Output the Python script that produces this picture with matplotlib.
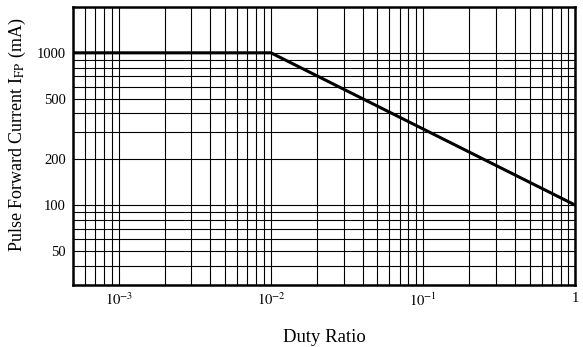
import numpy as np
import matplotlib.pyplot as plt
from matplotlib.ticker import LogLocator, FixedLocator, NullFormatter

# Derating curve
duty = [5e-4, 1e-2, 1.0]
current = [1000, 1000, 100]

x_ticks = [1e-3, 1e-2, 1e-1, 1]
x_labels = ['$10^{-3}$', '$10^{-2}$', '$10^{-1}$', '1']
y_ticks = [50, 100, 200, 500, 1000]
y_labels = ['50', '100', '200', '500', '1000']

plt.rcParams['font.family'] = ['Liberation Serif', 'DejaVu Serif']
plt.rcParams['mathtext.fontset'] = 'stix'

fig = plt.figure(figsize=(5.83, 3.47), dpi=100)
ax = fig.add_axes([0.125, 0.179, 0.862, 0.801])

ax.set_xscale('log')
ax.set_yscale('log')
ax.set_xlim(5e-4, 1.0)
ax.set_ylim(30, 2000)

ax.xaxis.set_major_locator(FixedLocator(x_ticks))
ax.set_xticklabels(x_labels)
ax.xaxis.set_minor_locator(LogLocator(base=10, subs=np.arange(2, 10)))
ax.xaxis.set_minor_formatter(NullFormatter())
ax.yaxis.set_major_locator(FixedLocator(y_ticks))
ax.set_yticklabels(y_labels)
ax.yaxis.set_minor_locator(LogLocator(base=10, subs=np.arange(1, 10)))
ax.yaxis.set_minor_formatter(NullFormatter())

ax.grid(True, which='both', color='black', linewidth=0.8)
ax.tick_params(which='both', length=0, labelsize=10.5, pad=5)

ax.plot(duty, current, color='black', linewidth=2.2)

for side in ax.spines.values():
    side.set_linewidth(1.8)

ax.set_ylabel('Pulse Forward Current I$_{\\mathrm{FP}}$ (mA)', fontsize=13, labelpad=4)
ax.yaxis.set_label_coords(-0.089, 0.54)
ax.set_xlabel('Duty Ratio', fontsize=13.5, labelpad=14)

fig.savefig('out.png', dpi=100)
